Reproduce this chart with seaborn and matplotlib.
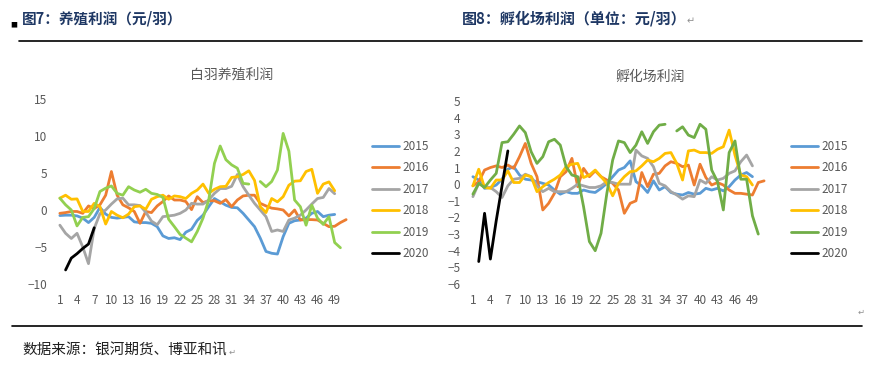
import numpy as np
import pandas as pd
import matplotlib
matplotlib.use("Agg")
import matplotlib.pyplot as plt
import seaborn as sns

nan = np.nan

# weekly profit data
years = ["2015", "2016", "2017", "2018", "2019", "2020"]

# left panel: 白羽养殖利润 (元/羽)
farm_2015 = [-0.75, -0.7, -0.7, -0.8, -1.1, -1.7, -1.0, 0.35, -0.55, -1.0, -1.1, -1.0, -0.9, -1.6, -1.7, -1.7,
             -1.8, -2.25, -3.5, -3.85, -3.75, -4.0, -3.0, -2.6, -1.4, -0.7, 0.45, 1.55, 1.1, 0.65, 0.35, 0.3,
             -0.45, -1.35, -2.25, -3.8, -5.6, -5.85, -5.95, -3.6, -1.8, -1.45, -1.35, -1.1, -0.45, -0.2, -0.9,
             -0.7, -0.6]
farm_2016 = [-0.45, -0.35, -0.2, -0.2, -0.45, 0.55, 0.2, 0.7, 2.0, 5.2, 2.0, 0.7, 0.3, -0.2, -1.8, -0.2,
             -0.35, 0.55, 1.15, 1.9, 1.35, 1.35, 1.15, 0.05, 1.8, 1.0, 1.25, 1.25, 0.9, 1.4, 0.45, 1.35,
             1.9, 2.0, 2.0, 0.9, 0.55, 0.25, 0.15, 0.0, -0.8, 0.0, -1.35, -1.3, -1.3, -1.35, -1.8, -2.25,
             -2.2, -1.7, -1.3]
farm_2017 = [-2.05, -3.15, -3.85, -3.15, -5.0, -7.25, -2.5, -0.5, 0.0, 0.8, 1.5, 1.6, 0.7, 0.7, 0.6, -0.3,
             -1.5, -2.0, -0.9, -0.8, -0.7, -0.45, 0.0, 0.9, 0.8, 0.8, 1.35, 2.25, 2.9, 2.9, 3.2, 4.8,
             3.15, 2.0, 0.9, 0.0, -0.9, -2.9, -2.7, -2.9, -1.35, -1.1, -0.7, 0.0, 0.8, 1.55, 1.7, 2.9, 2.2]
farm_2018 = [1.6, 2.0, 1.45, 1.5, -0.2, -0.2, 0.9, 0.45, -1.9, -0.2, -0.7, -1.05, -0.55, 0.45, 0.55, 0.1,
             1.45, 1.8, 2.0, 1.45, 1.9, 1.8, 1.55, 2.25, 2.7, 3.5, 2.25, 2.8, 3.15, 3.2, 4.4, 4.5,
             4.8, 5.3, 4.0, 0.45, -0.35, 1.55, 1.1, 1.8, 3.35, 3.9, 3.95, 5.2, 5.5, 2.25, 3.5, 3.8, 2.6]
farm_2019 = [1.6, 0.7, 0.0, -2.15, -1.0, -0.9, 0.2, 2.5, 2.95, 3.25, 2.25, 2.0, 3.15, 2.7, 2.4, 2.8,
             2.25, 2.1, 1.7, -1.25, -2.25, -3.3, -3.8, -4.3, -2.9, -1.1, 1.35, 6.3, 8.65, 6.8, 6.1, 5.65,
             3.6, 3.5, nan, 3.85, 3.15, 3.85, 5.4, 10.35, 7.95, 1.35, 0.45, -2.05, 0.65, -1.1, -1.95, -0.9,
             -4.4, -5.1]
farm_2020 = [nan, -8.1, -6.5, -5.9, -5.2, -4.6, -2.4]

# right panel: 孵化场利润 (元/羽)
hatch_2015 = [0.45, 0.25, -0.25, -0.2, -0.05, 0.3, 0.9, 1.05, 0.55, 0.3, 0.25, 0.15, 0.05, -0.05, -0.35, -0.6,
              -0.45, -0.55, -0.55, -0.35, -0.45, -0.5, -0.25, 0.05, 0.45, 0.85, 1.0, 1.4, 0.15, -0.1, -0.5, 0.2,
              -0.35, -0.15, -0.5, -0.6, -0.65, -0.5, -0.6, -0.55, -0.25, -0.35, -0.25, -0.4, -0.15, 0.25, 0.55,
              0.7, 0.45]
hatch_2016 = [-0.1, 0.15, 0.85, 1.0, 1.1, 1.0, 1.15, 0.95, 1.65, 2.45, 1.25, 0.45, -1.55, -1.15, -0.55, 0.45,
              0.75, 1.55, -0.15, 0.95, 0.45, 0.8, 0.45, 0.25, 0.05, -0.35, -1.75, -1.15, -1.0, 0.7, -0.15, 0.6,
              0.65, 1.1, 1.35, 1.25, 1.05, 1.15, -0.05, 1.2, 0.4, -0.05, 0.1, -0.05, -0.35, -0.55, -0.55, -0.6,
              -0.65, 0.1, 0.2]
hatch_2017 = [-0.75, 0.05, -0.15, -0.2, -0.45, -0.8, -0.1, 0.3, 0.35, 0.6, 0.45, -0.1, -0.45, -0.25, -0.45, -0.45,
              -0.45, -0.25, 0.0, -0.1, -0.2, -0.2, -0.1, 0.15, 0.1, 0.0, 0.0, 0.0, 2.05, 1.7, 1.55, 1.05,
              0.05, -0.1, -0.45, -0.65, -0.9, -0.7, -0.75, 0.25, 0.05, 0.45, 0.25, 0.35, 0.65, 0.8, 1.35,
              1.75, 1.1]
hatch_2018 = [-0.1, 0.9, -0.2, -0.25, 0.25, 0.25, 0.8, 0.1, 0.1, 0.55, 0.45, -0.45, -0.15, 0.1, 0.3, 0.55,
              1.05, 1.2, 1.25, 0.4, 0.55, 0.85, 0.45, 0.05, -0.7, 0.05, 0.45, 0.75, 0.8, 1.1, 1.45, 1.35,
              1.55, 1.85, 1.9, 1.25, 0.25, 2.0, 2.05, 1.9, 1.9, 1.85, 2.1, 2.25, 3.25, 1.75, 0.55, 0.45, -0.05]
hatch_2019 = [-0.6, 0.05, -0.2, 0.25, 0.65, 2.5, 2.55, 3.0, 3.5, 3.1, 1.95, 1.25, 1.65, 2.55, 2.7, 2.35,
              1.05, 0.55, 0.45, -1.35, -3.45, -4.0, -2.95, -0.55, 1.45, 2.6, 2.5, 1.9, 2.35, 3.15, 2.45, 3.15,
              3.55, 3.6, nan, 3.2, 3.45, 2.95, 2.8, 3.6, 3.3, 0.85, 0.15, -1.55, 1.9, 2.6, 0.3, 0.3, -1.9, -3.0]
hatch_2020 = [nan, -4.65, -1.75, -4.5, -2.2, -0.1, 2.0]

left_colors = ["#5B9BD5", "#ED7D31", "#A5A5A5", "#FFC000", "#92D050", "#000000"]
right_colors = ["#5B9BD5", "#ED7D31", "#A5A5A5", "#FFC000", "#70AD47", "#000000"]
week_ticks = list(range(1, 50, 3))


def to_long(series):
    rows = []
    for year, vals in zip(years, series):
        seg = 0
        for i, v in enumerate(vals):
            if np.isnan(v):
                seg += 1  # break the line at gaps
                continue
            rows.append({"week": i + 1, "value": v, "year": year, "seg": seg})
    return pd.DataFrame(rows)


farm = to_long([farm_2015, farm_2016, farm_2017, farm_2018, farm_2019, farm_2020])
hatch = to_long([hatch_2015, hatch_2016, hatch_2017, hatch_2018, hatch_2019, hatch_2020])

sns.set_theme(style="white")
plt.rcParams["font.family"] = ["Noto Sans CJK SC", "DejaVu Sans"]

W, H = 882, 365
fig = plt.figure(figsize=(W / 100, H / 100), dpi=100)


def px_axes(x0, y0, x1, y1):
    return fig.add_axes([x0 / W, 1 - y1 / H, (x1 - x0) / W, (y1 - y0) / H])


def draw_panel(ax, df, colors, ylim, yticks, title, title_xy, leg_xy):
    sns.lineplot(data=df, x="week", y="value", hue="year", units="seg", estimator=None,
                 palette=colors, hue_order=years, linewidth=2.0, ax=ax)
    ax.set_xlim(0.5, 51.5)
    ax.set_ylim(*ylim)
    ax.set_xticks(week_ticks)
    ax.set_yticks(yticks)
    ax.set_xlabel("")
    ax.set_ylabel("")
    ax.tick_params(axis="both", length=0, labelsize=8.5, labelcolor="#595959", pad=7)
    for s in ax.spines.values():
        s.set_visible(False)
    handles, labels = ax.get_legend_handles_labels()
    ax.legend(handles, labels, loc="upper left", bbox_to_anchor=(leg_xy[0] / W, 1 - leg_xy[1] / H),
              bbox_transform=fig.transFigure, frameon=False, fontsize=8.5, labelcolor="#595959",
              handlelength=2.3, handletextpad=0.25, labelspacing=0.72, borderpad=0)
    fig.text(title_xy[0] / W, 1 - title_xy[1] / H, title, ha="center", va="center",
             fontsize=10, color="#595959")


ax1 = px_axes(57, 99, 349, 284)
draw_panel(ax1, farm, left_colors, (-10, 15), range(-10, 16, 5), "白羽养殖利润", (232, 75), (366, 134))

ax2 = px_axes(470, 101, 767, 284)
draw_panel(ax2, hatch, right_colors, (-6, 5), range(-6, 6), "孵化场利润", (650, 77), (785, 134))

# report-style headers, rules and source note
head = "#1F3864"
fig.text(22 / W, 1 - 19 / H, "图7：养殖利润（元/羽）", ha="left", va="center",
         fontsize=10.5, fontweight="bold", color=head)
fig.text(10 / W, 1 - 25 / H, "■", ha="left", va="center", fontsize=5, color="black")
fig.text(462 / W, 1 - 19 / H, "图8：孵化场利润（单位：元/羽）", ha="left", va="center",
         fontsize=10.8, fontweight="bold", color=head)
fig.text(687 / W, 1 - 21 / H, "↵", ha="left", va="center", fontsize=7, color="#909090",
         family=["DejaVu Sans"])
fig.add_artist(plt.Line2D([19 / W, 862 / W], [1 - 41 / H, 1 - 41 / H], color="black", lw=1.2))
fig.add_artist(plt.Line2D([12 / W, 862 / W], [1 - 326 / H, 1 - 326 / H], color="black", lw=1.2))
fig.text(858 / W, 1 - 312 / H, "↵", ha="left", va="center", fontsize=6, color="#909090",
         family=["DejaVu Sans"])
fig.text(22 / W, 1 - 350 / H, "数据来源：银河期货、博亚和讯", ha="left", va="center",
         fontsize=10.5, color="#202020")
fig.text(229 / W, 1 - 352 / H, "↵", ha="left", va="center", fontsize=6, color="#909090",
         family=["DejaVu Sans"])

fig.savefig("out.png", dpi=100)
